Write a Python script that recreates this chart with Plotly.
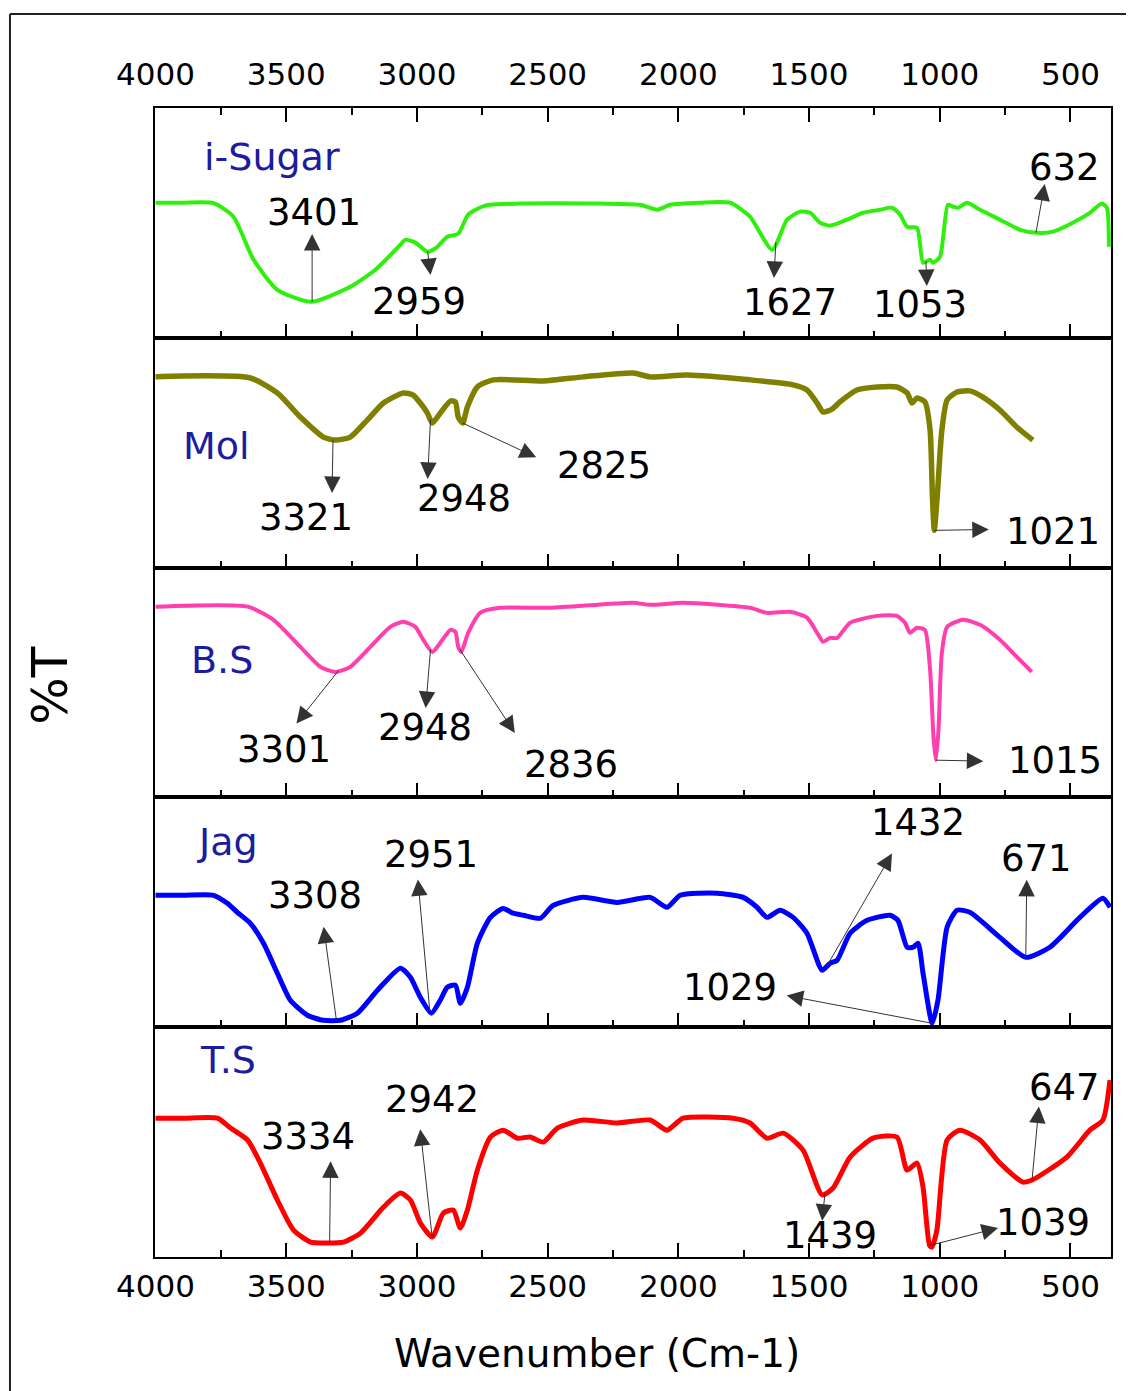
import numpy as np
import plotly.graph_objects as go
from plotly.subplots import make_subplots

# ---------------- data (wavenumber cm-1, relative %T within each panel) ----------------
isugar_wn = [4000, 3893, 3778, 3702, 3625, 3534, 3404, 3255, 3159, 3063, 3044, 3006, 2960, 2922, 2884, 2842,
             2804, 2739, 2605, 2299, 2146, 2081, 2031, 1917, 1802, 1726, 1641, 1584, 1534, 1496, 1458, 1420,
             1355, 1294, 1229, 1183, 1152, 1125, 1087, 1064, 1037, 1026, 999, 969, 950, 930, 896, 846, 770,
             693, 628, 567, 491, 426, 380, 361, 353]
isugar_T = [58.8, 58.8, 58.6, 52.7, 34.0, 20.9, 15.7, 22.2, 29.6, 40.5, 42.7, 41.4, 37.5, 39.6, 44.0, 45.3,
            53.6, 57.5, 58.4, 58.4, 57.9, 55.7, 57.9, 58.8, 58.8, 52.7, 38.3, 51.4, 54.9, 54.4, 50.1, 48.8,
            51.4, 54.4, 55.7, 56.6, 53.6, 48.3, 47.9, 32.7, 34.0, 32.7, 35.3, 57.9, 57.1, 56.6, 58.8, 55.7, 51.4,
            47.0, 45.7, 46.2, 50.1, 54.4, 58.4, 56.6, 39.6]

mol_wn = [4000, 3637, 3534, 3446, 3358, 3312, 3255, 3190, 3128, 3052, 3014, 2987, 2960, 2941, 2911, 2872,
          2853, 2842, 2825, 2807, 2769, 2708, 2517, 2364, 2173, 2108, 1966, 1726, 1561, 1508, 1469, 1446,
          1412, 1382, 1317, 1240, 1164, 1125, 1106, 1087, 1057, 1037, 1028, 1021, 1010, 992, 972, 934, 885,
          835, 770, 705, 644]
mol_T = [83.1, 82.5, 76.0, 65.5, 56.8, 55.5, 56.8, 64.2, 71.6, 76.0, 75.1, 71.6, 67.2, 62.9, 67.2, 72.5,
         72.1, 65.5, 62.9, 69.9, 78.6, 81.7, 81.2, 83.0, 84.7, 83.0, 83.8, 81.7, 79.5, 77.3, 71.6, 67.7,
         69.0, 72.1, 77.3, 78.6, 78.6, 76.0, 71.6, 73.8, 72.1, 59.8, 30.6, 16.2, 30.6, 59.8, 72.9, 76.4, 76.9,
         74.2, 68.6, 61.1, 55.5]

bs_wn = [4000, 3648, 3549, 3446, 3369, 3312, 3255, 3178, 3102, 3052, 3006, 2976, 2941, 2911, 2872, 2853,
         2842, 2830, 2804, 2758, 2681, 2490, 2173, 2108, 1982, 1726, 1661, 1573, 1508, 1469, 1446, 1420,
         1393, 1343, 1240, 1164, 1133, 1114, 1087, 1057, 1037, 1024, 1015, 1005, 992, 972, 911, 846, 770,
         705, 648]
bs_T = [83.0, 83.0, 77.3, 65.5, 56.8, 54.6, 56.8, 65.5, 74.2, 76.4, 74.2, 68.6, 63.3, 67.2, 72.9, 72.1,
        65.5, 63.3, 71.6, 80.3, 82.5, 82.5, 84.7, 83.8, 84.7, 82.5, 80.3, 80.8, 78.2, 71.6, 67.7, 69.4,
        69.4, 76.0, 79.0, 79.0, 76.0, 71.6, 73.8, 72.9, 55.5, 26.2, 16.2, 29.3, 62.9, 74.2, 77.3, 75.1, 68.6,
        61.1, 54.6]

jag_wn = [4000, 3893, 3778, 3725, 3687, 3637, 3587, 3534, 3484, 3419, 3358, 3293, 3228, 3151, 3063, 3025,
          2987, 2945, 2911, 2884, 2853, 2834, 2807, 2769, 2719, 2670, 2632, 2593, 2528, 2479, 2364, 2234,
          2108, 2043, 1993, 1852, 1752, 1699, 1661, 1611, 1561, 1508, 1450, 1420, 1393, 1343, 1278, 1190,
          1160, 1125, 1102, 1083, 1064, 1029, 1007, 972, 934, 885, 770, 671, 579, 464, 376, 349]
jag_T = [57.4, 57.4, 57.4, 53.9, 50.0, 45.2, 36.5, 23.5, 11.7, 5.2, 3.0, 3.0, 6.1, 16.1, 25.7, 21.7,
         13.0, 6.1, 11.7, 17.4, 18.3, 10.4, 17.4, 36.5, 47.8, 51.7, 49.6, 48.7, 47.4, 53.0, 56.5, 54.3,
         56.5, 52.2, 57.4, 58.3, 56.5, 52.2, 47.8, 50.9, 47.8, 40.9, 24.8, 27.8, 29.1, 40.9, 46.5, 48.7,
         46.5, 34.8, 34.8, 36.5, 23.5, 1.7, 11.7, 43.5, 50.9, 50.0, 39.1, 30.4, 34.8, 47.8, 56.1, 52.2]

ts_wn = [4000, 3893, 3763, 3713, 3648, 3599, 3534, 3472, 3407, 3343, 3281, 3216, 3128, 3063, 3025, 2987,
         2941, 2899, 2861, 2834, 2807, 2769, 2719, 2670, 2616, 2567, 2517, 2463, 2364, 2234, 2108, 2043,
         1982, 1791, 1726, 1661, 1599, 1523, 1450, 1408, 1343, 1255, 1164, 1125, 1087, 1064, 1039, 1030,
         1011, 972, 923, 846, 770, 682, 647, 514, 426, 376, 349]
ts_T = [60.4, 60.4, 60.4, 56.1, 50.9, 40.9, 24.8, 11.7, 6.5, 6.1, 6.5, 10.4, 21.7, 27.8, 24.8, 14.8,
        8.7, 19.1, 20.4, 12.6, 20.4, 37.8, 52.2, 55.2, 51.7, 52.2, 50.0, 56.1, 59.6, 58.3, 59.6, 55.2,
        60.4, 60.4, 58.3, 51.7, 53.9, 46.5, 27.0, 30.0, 43.5, 51.7, 52.2, 37.8, 40.9, 30.4, 5.0, 4.3,
        11.7, 50.9, 55.2, 50.9, 40.9, 32.6, 33.5, 43.5, 55.2, 59.6, 77.0]

series_names = ["i-Sugar", "Mol", "B.S", "Jag", "T.S"]

# labelled peak wavenumbers per panel
isugar_peaks = [3401, 2959, 1627, 1053, 632]
mol_peaks = [3321, 2948, 2825, 1021]
bs_peaks = [3301, 2948, 2836, 1015]
jag_peaks = [3308, 2951, 1432, 1029, 671]
ts_peaks = [3334, 2942, 1439, 1039, 647]

tick_vals = [4000, 3500, 3000, 2500, 2000, 1500, 1000, 500]
minor_vals = [3750, 3250, 2750, 2250, 1750, 1250, 750]

# ---------------- styles / layout placement ----------------
colors = ["#2ef00c", "#808000", "#ff3fae", "#0000ff", "#ff0000"]
widths = [4, 5.5, 4, 5, 5]
label_color = "#1c1ca0"
FONT = "DejaVu Sans"

# pixel offsets from the peak point: (arrow-head dx, dy), (text dx, dy); screen y down
offsets = [
    [((0, -69), (2, -89)), ((3, 25), (-9, 50)), ((-2, 37), (14, 60)), ((1, 26), (-6, 43)), ((9, -50), (29, -65))],
    [((-1, 55), (-27, 78)), ((-3, 61), (33, 79)), ((75, 35), (141, 42)), ((56, -1), (119, 1))],
    [((-43, 54), (-54, 79)), ((-5, 60), (-6, 78)), ((56, 85), (111, 115)), ((49, 1), (119, 0))],
    [((-13, -95), (-21, -125)), ((-12, -133), (1, -156)), ((66, -114), (91, -144)), ((-147, -28), (-202, -36)),
     ((1, -79), (11, -99))],
    [((1, -83), (-22, -106)), ((-12, -109), (0, -137)), ((-3, 29), (5, 42)), ((70, -18), (113, -23)),
     ((7, -75), (32, -93))],
]
name_pos = [(0.122, 0.788), (0.064, 0.531), (0.070, 0.597), (0.076, 0.806), (0.076, 0.858)]

data = [(isugar_wn, isugar_T, isugar_peaks), (mol_wn, mol_T, mol_peaks), (bs_wn, bs_T, bs_peaks),
        (jag_wn, jag_T, jag_peaks), (ts_wn, ts_T, ts_peaks)]

fig = make_subplots(rows=5, cols=1, vertical_spacing=0)

annotations = []
for i, (wn, T, peaks) in enumerate(data):
    fig.add_trace(go.Scatter(x=wn, y=T, mode="lines", showlegend=False, hoverinfo="skip",
                             line=dict(color=colors[i], width=widths[i], shape="spline", smoothing=0.6)),
                  row=i + 1, col=1)
    suffix = "" if i == 0 else str(i + 1)
    xr, yr = "x" + suffix, "y" + suffix
    wn_arr = np.array(wn, dtype=float)[::-1]
    T_arr = np.array(T, dtype=float)[::-1]
    for pk, ((adx, ady), (tdx, tdy)) in zip(peaks, offsets[i]):
        yv = float(np.interp(pk, wn_arr, T_arr))
        annotations.append(dict(x=pk, y=yv, xref=xr, yref=yr, ax=adx, ay=ady, text="",
                                showarrow=True, arrowside="start", startarrowhead=2, startarrowsize=3.3,
                                arrowwidth=1, arrowcolor="#333333", standoff=0, startstandoff=0,
                                font=dict(size=1)))
        annotations.append(dict(x=pk, y=yv, xref=xr, yref=yr, text=str(pk), showarrow=False,
                                xshift=tdx, yshift=-tdy, xanchor="center", yanchor="middle",
                                font=dict(family=FONT, size=37, color="black")))
    annotations.append(dict(x=name_pos[i][0], y=name_pos[i][1], xref="paper", yref=yr + " domain",
                            text=series_names[i], showarrow=False, xanchor="center", yanchor="middle",
                            font=dict(family=FONT, size=38, color=label_color)))

annotations.append(dict(x=0.462, y=-0.0836, xref="paper", yref="paper", text="Wavenumber (Cm-1)",
                        showarrow=False, xanchor="center", yanchor="middle",
                        font=dict(family=FONT, size=39, color="black")))
annotations.append(dict(x=-0.110, y=0.498, xref="paper", yref="paper", text="%T", textangle=-90,
                        showarrow=False, xanchor="center", yanchor="middle",
                        font=dict(family=FONT, size=50, color="black")))

xcommon = dict(range=[4002, 345], tickvals=tick_vals, ticks="inside", ticklen=14, tickwidth=2,
               tickcolor="black", showline=True, linewidth=2, linecolor="black", showgrid=False,
               zeroline=False, tickfont=dict(family=FONT, size=31, color="black"),
               minor=dict(ticks="inside", tickvals=minor_vals, ticklen=7, tickwidth=2, tickcolor="black"))
ycommon = dict(range=[0, 100], showticklabels=False, ticks="", showline=True, linewidth=2,
               linecolor="black", mirror=True, showgrid=False, zeroline=False)

for i in range(5):
    suffix = "" if i == 0 else str(i + 1)
    xa = dict(xcommon)
    if i == 0:
        xa.update(side="top", mirror="ticks", showticklabels=True, ticklabelstandoff=9)
    elif i == 4:
        xa.update(side="bottom", mirror=True, showticklabels=True, ticklabelstandoff=1)
    else:
        xa.update(side="bottom", mirror=True, showticklabels=False)
    fig.layout["xaxis" + suffix].update(xa)
    fig.layout["yaxis" + suffix].update(ycommon)

shapes = [
    dict(type="line", xref="paper", yref="paper", x0=-0.1517, x1=1.1, y0=1.0818, y1=1.0818,
         line=dict(color="#222222", width=2)),
    dict(type="line", xref="paper", yref="paper", x0=-0.1517, x1=-0.1517, y0=-0.2, y1=1.0818,
         line=dict(color="#222222", width=2)),
]

# page body has an 8px margin, so the figure is 8px smaller than the window
fig.update_layout(width=1126, height=1383, margin=dict(l=147, r=23, t=100, b=134),
                  paper_bgcolor="white", plot_bgcolor="white", annotations=annotations, shapes=shapes,
                  showlegend=False)

fig.write_html("out.html")
